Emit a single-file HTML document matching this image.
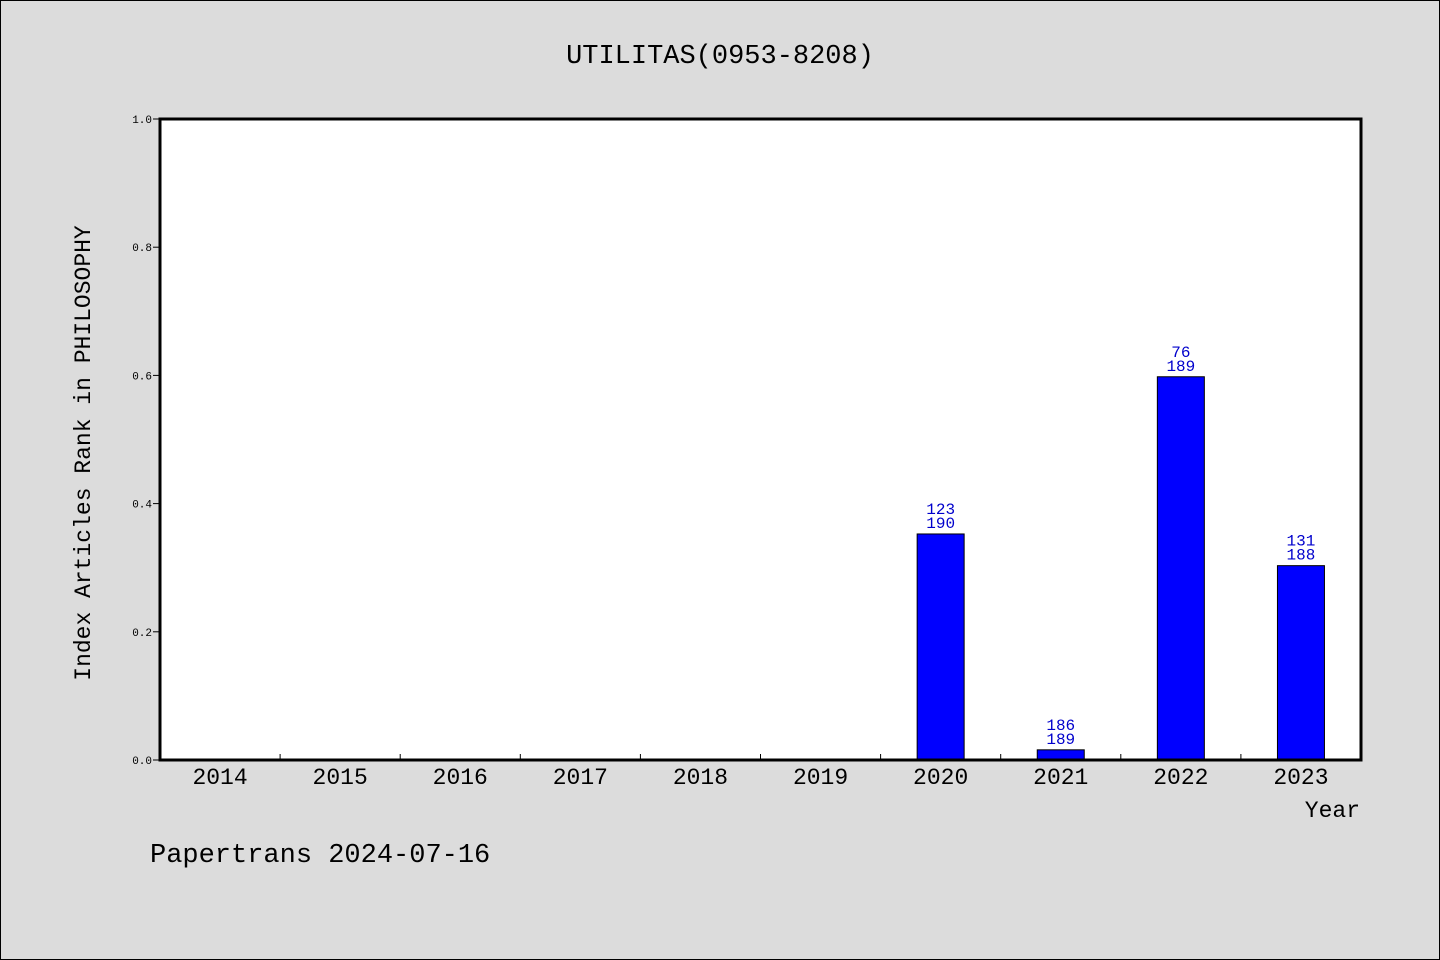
<!DOCTYPE html>
<html><head><meta charset="utf-8"><style>
html,body{margin:0;padding:0;background:#dcdcdc;}
svg{display:block;font-family:"Liberation Mono","DejaVu Sans Mono",monospace;}
</style></head><body>
<svg id="chart" width="1440" height="960">
<rect x="0.5" y="0.5" width="1439" height="959" fill="#dcdcdc" stroke="#000"/>
<text x="720" y="63" text-anchor="middle" font-size="27">UTILITAS(0953-8208)</text>
<rect x="160" y="119" width="1201" height="641" fill="#fff"/>
<g id="marks"></g>
<rect x="160" y="119" width="1201" height="641" fill="none" stroke="#000" stroke-width="3"/>
<text transform="translate(90,453) rotate(-90)" text-anchor="middle" font-size="23">Index Articles Rank in PHILOSOPHY</text>
<text x="1360" y="817" text-anchor="end" font-size="23">Year</text>
<text x="150" y="862" font-size="27">Papertrans 2024-07-16</text>
</svg>
<script>
const categories=["2014","2015","2016","2017","2018","2019","2020","2021","2022","2023"];
const ranks=[null,null,null,null,null,null,123,186,76,131];
const totals=[null,null,null,null,null,null,190,189,189,188];
const yTicks=[0,0.2,0.4,0.6,0.8,1.0];
const yTickLabels=["0.0","0.2","0.4","0.6","0.8","1.0"];
const L=160,R=1361,T=119,B=760;
const bw=(R-L)/categories.length;
const x=i=>L+bw*(i+0.5);
const y=v=>B-(B-T)*v;
const NS="http://www.w3.org/2000/svg";
const g=document.getElementById('marks');
function mk(t,a){const e=document.createElementNS(NS,t);for(const k in a)e.setAttribute(k,a[k]);g.appendChild(e);return e;}
yTicks.forEach((v,i)=>{
 const l=mk('line',{x1:L-7,x2:L,y1:y(v),y2:y(v),stroke:'#000'});
 
 
 const t=mk('text',{x:L-8,y:y(v)+4,'text-anchor':'end','font-size':11});
 t.textContent=yTickLabels[i];
 
 
});
categories.forEach((c,i)=>{
 if(i>0){const l=mk('line',{x1:L+bw*i,x2:L+bw*i,y1:B-6,y2:B,stroke:'#000'});
 
 }
 const t=mk('text',{x:x(i),y:B+24,'text-anchor':'middle','font-size':23});
 t.textContent=c;
 
 
 if(ranks[i]!=null){
  const v=1-ranks[i]/totals[i];
  const r=mk('rect',{x:x(i)-23.5,y:y(v),width:47,height:B-y(v),fill:'#0000ff',stroke:'#000','stroke-width':1});
  
  
  const t1=mk('text',{x:x(i),y:y(v)-20,'text-anchor':'middle','font-size':16,fill:'#0000cc'});
  t1.textContent=ranks[i];
  
  
  const t2=mk('text',{x:x(i),y:y(v)-6,'text-anchor':'middle','font-size':16,fill:'#0000cc'});
  t2.textContent=totals[i];
  
  
 }
});
</script>
</body></html>
